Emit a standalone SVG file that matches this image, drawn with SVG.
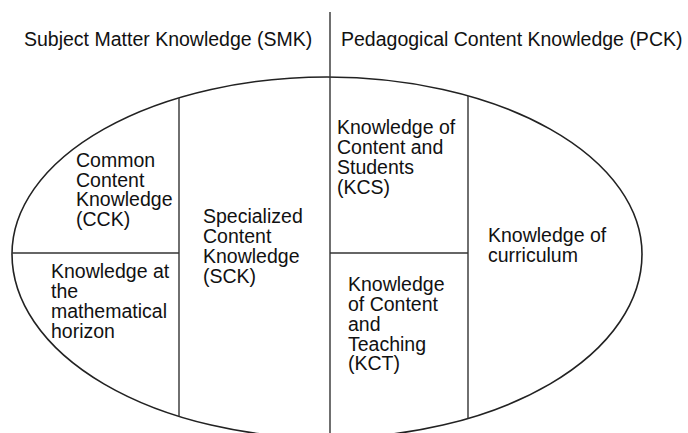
<svg xmlns="http://www.w3.org/2000/svg" width="688" height="433" viewBox="0 0 688 433">
  <style>
    .t { font-family: "Liberation Sans", Arial, sans-serif; fill: #111; }
    .h { font-size: 19.5px; }
    .b { font-size: 19.5px; }
    .ln { stroke: #333; stroke-width: 1.4; fill: none; }
    .el { stroke: #222; stroke-width: 1.6; fill: none; }
  </style>
  <rect width="688" height="433" fill="#fff"/>
  <g id="frame">
    <path class="el" d="M 12 254 A 315 177 0 0 1 642 254 A 315 184 0 0 1 12 254"/>
  </g>
  <g id="connectors">
    <line class="ln" x1="330" y1="12" x2="330" y2="433"/>
    <line class="ln" x1="179" y1="98" x2="179" y2="416.5"/>
    <line class="ln" x1="468" y1="96" x2="468" y2="418.5"/>
    <line class="ln" x1="12" y1="253" x2="179" y2="253"/>
    <line class="ln" x1="330" y1="253" x2="468" y2="253"/>
  </g>
  <g id="smk"><text class="t h" x="24" y="46">Subject Matter Knowledge (SMK)</text></g>
  <g id="pck"><text class="t h" x="341" y="46">Pedagogical Content Knowledge (PCK)</text></g>
  <g id="cck">
    <text class="t b" x="76" y="167">Common</text>
    <text class="t b" x="76" y="186.5">Content</text>
    <text class="t b" x="76" y="206">Knowledge</text>
    <text class="t b" x="76" y="225.5">(CCK)</text>
  </g>
  <g id="horizon">
    <text class="t b" x="51" y="278">Knowledge at</text>
    <text class="t b" x="51" y="298">the</text>
    <text class="t b" x="51" y="318">mathematical</text>
    <text class="t b" x="51" y="337.5">horizon</text>
  </g>
  <g id="sck">
    <text class="t b" x="203" y="223">Specialized</text>
    <text class="t b" x="203" y="243">Content</text>
    <text class="t b" x="203" y="262.5">Knowledge</text>
    <text class="t b" x="203" y="282.5">(SCK)</text>
  </g>
  <g id="kcs">
    <text class="t b" x="337" y="134">Knowledge of</text>
    <text class="t b" x="337" y="154">Content and</text>
    <text class="t b" x="337" y="174">Students</text>
    <text class="t b" x="337" y="194">(KCS)</text>
  </g>
  <g id="kct">
    <text class="t b" x="348" y="291">Knowledge</text>
    <text class="t b" x="348" y="311">of Content</text>
    <text class="t b" x="348" y="331">and</text>
    <text class="t b" x="348" y="350.5">Teaching</text>
    <text class="t b" x="348" y="370">(KCT)</text>
  </g>
  <g id="curriculum">
    <text class="t b" x="488" y="242">Knowledge of</text>
    <text class="t b" x="488" y="262">curriculum</text>
  </g>
</svg>
